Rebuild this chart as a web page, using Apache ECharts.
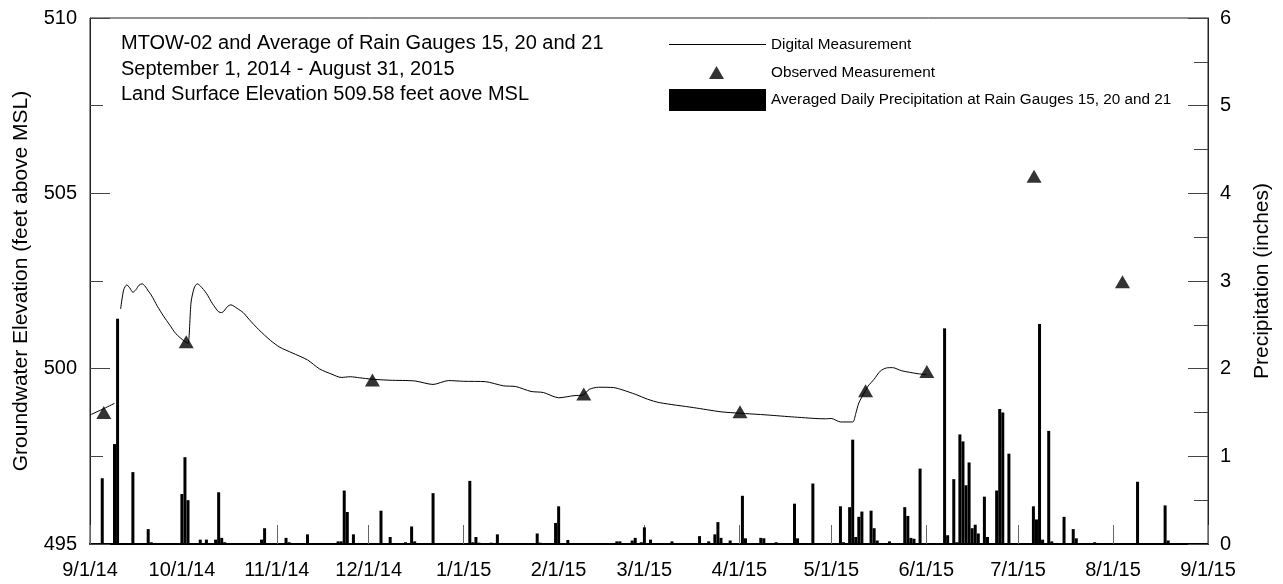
<!DOCTYPE html>
<html>
<head>
<meta charset="utf-8">
<script src="https://cdn.jsdelivr.net/npm/echarts@6/dist/echarts.min.js"></script>
<style>
  html, body { margin: 0; padding: 0; background: #ffffff; }
  #chart { width: 1283px; height: 584px; }
</style>
</head>
<body>
<div id="chart"></div>
<script>
// Month starts used for the x-axis ticks and labels
const monthTicks = [
  '2014-09-01', '2014-10-01', '2014-11-01', '2014-12-01', '2015-01-01', '2015-02-01', '2015-03-01',
  '2015-04-01', '2015-05-01', '2015-06-01', '2015-07-01', '2015-08-01', '2015-09-01'
];

// Continuous (digital) groundwater elevation, feet above MSL; null marks a gap in the record
const digitalDates = [
  '2014-09-01', '2014-09-05', '2014-09-09', '2014-09-10', '2014-09-11', '2014-09-12', '2014-09-13',
  '2014-09-14', '2014-09-15', '2014-09-16', '2014-09-17', '2014-09-18', '2014-09-19', '2014-09-20',
  '2014-09-21', '2014-09-23', '2014-09-25', '2014-09-27', '2014-09-29', '2014-10-02', '2014-10-03',
  '2014-10-04', '2014-10-05', '2014-10-06', '2014-10-07', '2014-10-09', '2014-10-11', '2014-10-13',
  '2014-10-14', '2014-10-16', '2014-10-17', '2014-10-19', '2014-10-21', '2014-10-23', '2014-10-26',
  '2014-10-30', '2014-11-02', '2014-11-06', '2014-11-11', '2014-11-15', '2014-11-19', '2014-11-22',
  '2014-11-25', '2014-11-28', '2014-12-02', '2014-12-08', '2014-12-16', '2014-12-22', '2014-12-27',
  '2015-01-01', '2015-01-08', '2015-01-14', '2015-01-18', '2015-01-23', '2015-01-27', '2015-02-01',
  '2015-02-06', '2015-02-09', '2015-02-11', '2015-02-14', '2015-02-19', '2015-02-22', '2015-02-26',
  '2015-03-02', '2015-03-06', '2015-03-17', '2015-03-26', '2015-04-01', '2015-04-10', '2015-04-19',
  '2015-04-29', '2015-05-01', '2015-05-04', '2015-05-08', '2015-05-09', '2015-05-10', '2015-05-12',
  '2015-05-13', '2015-05-15', '2015-05-17', '2015-05-19', '2015-05-21', '2015-05-24', '2015-05-29',
  '2015-06-01'
];
const digitalValues = [
  498.68, 498.84, 499.01, null, 501.70, 502.25, 502.39,
  502.30, 502.18, 502.25, 502.38, 502.42, 502.35, 502.22,
  502.10, 501.78, 501.50, 501.25, 501.00, 500.77, 500.72,
  501.90, 502.30, 502.42, 502.36, 502.15, 501.85, 501.62,
  501.60, 501.78, 501.82, 501.72, 501.60, 501.40, 501.12,
  500.80, 500.61, 500.45, 500.25, 499.99, 499.84, 499.75,
  499.77, 499.74, 499.70, 499.67, 499.65, 499.55, 499.66,
  499.64, 499.63, 499.51, 499.49, 499.35, 499.32, 499.17,
  499.23, 499.25, 499.41, 499.47, 499.46, 499.39, 499.27,
  499.13, 499.03, 498.89, 498.77, 498.73, 498.68, 498.62,
  498.57, 498.58, 498.48, 498.48, 498.72, 499.02, 499.35,
  499.50, 499.70, 499.93, 500.02, 500.03, 499.94, 499.86,
  499.83
];

// Manual (observed) groundwater measurements
const observedDates = [
  '2014-09-05 12:00', '2014-10-02 10:00', '2014-12-02 05:00', '2015-02-09 05:00', '2015-04-01 05:00',
  '2015-05-12 05:00', '2015-06-01 05:00', '2015-07-06 05:00', '2015-08-04 02:00'
];
const observedValues = [498.75, 500.77, 499.68, 499.28, 498.77, 499.37, 499.92, 505.49, 502.48];

// Averaged daily precipitation, inches
const precipDates = [
  '2014-09-05', '2014-09-09', '2014-09-10', '2014-09-15', '2014-09-20', '2014-09-21', '2014-10-01',
  '2014-10-02', '2014-10-03', '2014-10-04', '2014-10-07', '2014-10-09', '2014-10-12', '2014-10-13',
  '2014-10-14', '2014-10-15', '2014-10-27', '2014-10-28', '2014-11-04', '2014-11-05', '2014-11-11',
  '2014-11-21', '2014-11-22', '2014-11-23', '2014-11-24', '2014-11-26', '2014-11-29', '2014-12-05',
  '2014-12-08', '2014-12-13', '2014-12-15', '2014-12-16', '2014-12-22', '2014-12-27', '2015-01-03',
  '2015-01-04', '2015-01-05', '2015-01-06', '2015-01-10', '2015-01-12', '2015-01-15', '2015-01-25',
  '2015-01-26', '2015-01-31', '2015-02-01', '2015-02-04', '2015-02-20', '2015-02-21', '2015-02-25',
  '2015-02-26', '2015-02-28', '2015-03-01', '2015-03-03', '2015-03-10', '2015-03-19', '2015-03-20',
  '2015-03-22', '2015-03-24', '2015-03-25', '2015-03-26', '2015-03-29', '2015-04-02', '2015-04-03',
  '2015-04-08', '2015-04-09', '2015-04-13', '2015-04-19', '2015-04-20', '2015-04-22', '2015-04-25',
  '2015-05-04', '2015-05-05', '2015-05-07', '2015-05-08', '2015-05-09', '2015-05-10', '2015-05-11',
  '2015-05-14', '2015-05-15', '2015-05-16', '2015-05-17', '2015-05-20', '2015-05-25', '2015-05-26',
  '2015-05-27', '2015-05-28', '2015-05-30', '2015-06-07', '2015-06-08', '2015-06-10', '2015-06-11',
  '2015-06-12', '2015-06-13', '2015-06-14', '2015-06-15', '2015-06-16', '2015-06-17', '2015-06-18',
  '2015-06-20', '2015-06-21', '2015-06-24', '2015-06-25', '2015-06-26', '2015-06-28', '2015-07-06',
  '2015-07-07', '2015-07-08', '2015-07-09', '2015-07-11', '2015-07-12', '2015-07-16', '2015-07-19',
  '2015-07-20', '2015-07-26', '2015-08-09', '2015-08-18', '2015-08-19', '2015-08-23'
];
const precipValues = [
  0.75, 1.14, 2.57, 0.82, 0.17, 0.02, 0.57,
  0.99, 0.50, 0.01, 0.05, 0.05, 0.05, 0.59,
  0.07, 0.02, 0.05, 0.18, 0.07, 0.02, 0.11,
  0.03, 0.03, 0.61, 0.365, 0.11, 0.01, 0.38,
  0.08, 0.02, 0.20, 0.03, 0.58, 0.01, 0.72,
  0.02, 0.08, 0.015, 0.015, 0.11, 0.01, 0.12,
  0.015, 0.24, 0.43, 0.046, 0.03, 0.03, 0.04,
  0.07, 0.02, 0.19, 0.05, 0.03, 0.09, 0.01,
  0.03, 0.11, 0.25, 0.07, 0.04, 0.55, 0.065,
  0.07, 0.065, 0.02, 0.46, 0.065, 0.01, 0.69,
  0.43, 0.02, 0.42, 1.19, 0.08, 0.31, 0.37,
  0.38, 0.18, 0.04, 0.01, 0.03, 0.42, 0.32,
  0.07, 0.06, 0.86, 2.46, 0.10, 0.74, 0.02,
  1.25, 1.17, 0.67, 0.93, 0.18, 0.22, 0.12,
  0.54, 0.08, 0.61, 1.54, 1.50, 1.03, 0.43,
  0.28, 2.51, 0.05, 1.29, 0.03, 0.31, 0.17,
  0.065, 0.02, 0.71, 0.44, 0.04, 0.01
];

const titleLines = [
  'MTOW-02 and Average of Rain Gauges 15, 20 and 21',
  'September 1, 2014 - August 31, 2015',
  'Land Surface Elevation 509.58 feet aove MSL'
];

const SERIES_DIGITAL = 'Digital Measurement';
const SERIES_OBSERVED = 'Observed Measurement';
const SERIES_PRECIP = 'Averaged Daily Precipitation at Rain Gauges 15, 20 and 21';

const FONT = '"Liberation Sans", Arial, Helvetica, sans-serif';

// 'YYYY-MM-DD' or 'YYYY-MM-DD HH:mm' -> local timestamp (ms)
function toTime(s) {
  const [datePart, timePart] = s.split(' ');
  const [y, m, d] = datePart.split('-').map(Number);
  const [hh, mm] = (timePart || '0:0').split(':').map(Number);
  return new Date(y, m - 1, d, hh, mm).getTime();
}
const monthTickTimes = monthTicks.map(toTime);

function zip(xs, ys) { return xs.map((x, i) => [toTime(x), ys[i]]); }

const chart = echarts.init(document.getElementById('chart'), null, { renderer: 'canvas' });

const legendText = { fontFamily: FONT, fontSize: 15.3, color: '#000' };

chart.setOption({
  backgroundColor: '#ffffff',
  animation: false,
  textStyle: { fontFamily: FONT },
  title: {
    text: titleLines.join('\n'),
    left: 121,
    top: 31,
    padding: 0,
    textStyle: { fontFamily: FONT, fontSize: 20, fontWeight: 'normal', color: '#000', lineHeight: 25.5 }
  },
  legend: [
    {
      // thin bar used as the line key
      data: [{ name: SERIES_DIGITAL, icon: 'rect', itemStyle: { color: '#000' } }],
      left: 669, top: 37, padding: 0, itemWidth: 97, itemHeight: 1.2,
      selectedMode: false, textStyle: legendText
    },
    {
      data: [{ name: SERIES_OBSERVED, icon: 'triangle' }],
      left: 709, top: 65, padding: 0, itemWidth: 15, itemHeight: 13,
      selectedMode: false,
      textStyle: Object.assign({}, legendText, { padding: [0, 0, 0, 42] })
    },
    {
      data: [{ name: SERIES_PRECIP, icon: 'rect' }],
      left: 669, top: 89, padding: 0, itemWidth: 97, itemHeight: 22,
      selectedMode: false, textStyle: legendText
    }
  ],
  grid: {
    left: 90, right: 75, top: 18, bottom: 40,
    show: true, borderColor: '#222', borderWidth: 1, backgroundColor: 'transparent'
  },
  xAxis: {
    type: 'value',
    min: monthTickTimes[0],
    max: monthTickTimes[monthTickTimes.length - 1],
    axisLine: { show: true, lineStyle: { color: '#000', width: 2 } },
    axisTick: {
      show: true, inside: true, length: 19, customValues: monthTickTimes,
      lineStyle: { color: '#666', width: 1 }
    },
    axisLabel: {
      customValues: monthTickTimes,
      margin: 16,
      fontFamily: FONT, fontSize: 20, color: '#000',
      formatter: function (v) {
        const d = new Date(v);
        return (d.getMonth() + 1) + '/' + d.getDate() + '/' + String(d.getFullYear()).slice(2);
      }
    },
    splitLine: { show: false }
  },
  yAxis: [
    {
      type: 'value',
      min: 495, max: 510, interval: 5,
      name: 'Groundwater Elevation (feet above MSL)',
      nameLocation: 'middle', nameGap: 58, nameRotate: 90,
      nameTextStyle: { fontFamily: FONT, fontSize: 21, color: '#000' },
      axisLine: { show: true, lineStyle: { color: '#222', width: 1 } },
      axisTick: { show: true, inside: true, length: 20, lineStyle: { color: '#444' } },
      minorTick: { show: true, splitNumber: 2, length: 13, lineStyle: { color: '#444' } },
      axisLabel: { margin: 13, fontFamily: FONT, fontSize: 20, color: '#000' },
      splitLine: { show: false }
    },
    {
      type: 'value',
      min: 0, max: 6, interval: 1,
      position: 'right',
      name: 'Precipitation (inches)',
      nameLocation: 'middle', nameGap: 44, nameRotate: 90,
      nameTextStyle: { fontFamily: FONT, fontSize: 21, color: '#000' },
      axisLine: { show: true, lineStyle: { color: '#222', width: 1 } },
      axisTick: { show: true, inside: true, length: 20, lineStyle: { color: '#444' } },
      minorTick: { show: true, splitNumber: 2, length: 14, lineStyle: { color: '#444' } },
      axisLabel: { margin: 12, fontFamily: FONT, fontSize: 20, color: '#000' },
      splitLine: { show: false }
    }
  ],
  series: [
    {
      name: SERIES_PRECIP,
      type: 'bar',
      yAxisIndex: 1,
      barWidth: 3,
      itemStyle: { color: '#000' },
      data: zip(precipDates, precipValues),
      z: 2
    },
    {
      name: SERIES_DIGITAL,
      type: 'line',
      yAxisIndex: 0,
      symbol: 'none',
      showSymbol: false,
      smooth: 0.25,
      connectNulls: false,
      lineStyle: { color: '#000', width: 1 },
      itemStyle: { color: '#000' },
      data: zip(digitalDates, digitalValues),
      z: 3
    },
    {
      name: SERIES_OBSERVED,
      type: 'scatter',
      yAxisIndex: 0,
      symbol: 'triangle',
      symbolSize: [15, 13],
      itemStyle: { color: '#000' },
      data: zip(observedDates, observedValues),
      z: 4
    }
  ]
});
</script>
</body>
</html>
